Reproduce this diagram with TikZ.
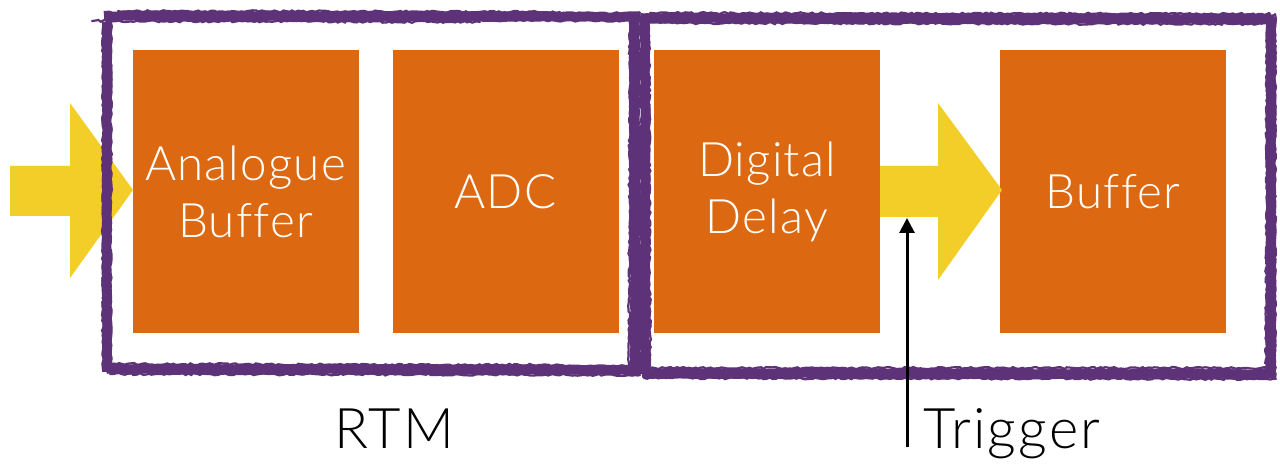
\documentclass[tikz,border=0pt]{standalone}
\usepackage{fontspec}
\setmainfont{Lato Light}
\newfontfamily\blockfont[LetterSpace=2.5,Ligatures=NoCommon]{Lato Light}
\newfontfamily\labelfont[LetterSpace=4,Ligatures=NoCommon]{Lato Light}
\usetikzlibrary{arrows.meta,decorations.pathmorphing}
\definecolor{blockorange}{HTML}{DC6912}
\definecolor{flowyellow}{HTML}{F3CD28}
\definecolor{framepurple}{HTML}{5E3278}
\tikzset{
  block/.style={fill=blockorange, draw=none, minimum width=226pt, minimum height=283pt,
    inner sep=0pt, text=white, font=\blockfont\fontsize{47.5}{57}\selectfont, align=center},
  flow/.style={fill=flowyellow, draw=none},
  brush/.style={draw=framepurple, line width=10pt, line cap=butt,
    decorate, decoration={random steps, segment length=4pt, amplitude=0.8pt}},
  bristle/.style={draw=framepurple, line width=2.2pt, line cap=round,
    decorate, decoration={random steps, segment length=3pt, amplitude=1pt}},
  label/.style={font=\labelfont\fontsize{56}{60}\selectfont, text=black, inner sep=0pt, anchor=base west},
}
\begin{document}
\begin{tikzpicture}[x=1pt,y=-1pt]
\pgfmathsetseed{7}
\useasboundingbox (0,0) rectangle (1280,465);
\fill[white] (0,0) rectangle (1280,465);

% processing blocks
\node[block] (abuf)  at (245.5,191.5) {Analogue\\Buffer};
\node[block] (adc)   at (505.5,191.5) {ADC};
\node[block] (delay) at (767,191.5)   {Digital\\Delay};
\node[block] (buf)   at (1113,191.5)  {Buffer};

% input arrow into the analogue buffer
\fill[flow] (10,166) -- (70,166) -- (70,103) -- (133,190) -- (70,278) -- (70,216) -- (10,216) -- cycle;
% arrow from the delay into the output buffer
\fill[flow] (880,166) -- (938,166) -- (938,103) -- (1002,190) -- (938,280) -- (938,217) -- (880,217) -- cycle;
\coordinate (shaftbottom) at (907,218);

% RTM frame (brush-stroke rectangle)
\draw[brush] (107,22) -- (107,372);
\draw[brush] (104,16) -- (640,17);
\draw[brush] (634,14) -- (635,372);
\draw[brush] (106,369) -- (640,370);
\draw[bristle] (103,30) -- (103,370);
\draw[bristle] (111,14) -- (110,360);
\draw[bristle] (118,11) -- (560,12);
\draw[bristle] (92,21) -- (480,22);
\draw[bristle] (630,20) -- (629,365);
\draw[bristle] (639,12) -- (640,374);
\draw[bristle] (110,374) -- (640,375);
\draw[bristle] (110,364) -- (560,365);

% second frame
\draw[brush] (645,20) -- (645,374);
\draw[brush] (640,18) -- (1275,19);
\draw[brush] (1271,18) -- (1271,378);
\draw[brush] (642,373) -- (1275,374);
\draw[bristle] (650,13) -- (1270,14);
\draw[bristle] (660,23) -- (1262,24);
\draw[bristle] (1267,26) -- (1266,372);
\draw[bristle] (1275,14) -- (1275,378);
\draw[bristle] (650,368) -- (1268,368);
\draw[bristle] (644,378) -- (1276,379);
\draw[bristle] (649,30) -- (650,366);

% labels
\node[label] (rtm) at (334,448) {RTM};
\node[label] (trig) at (923,448) {Trigger};
\coordinate (trigfoot) at (907,447);
\draw[line width=3pt, -{Triangle[length=15pt,width=15pt]}] (trigfoot) -- (shaftbottom);
\end{tikzpicture}
\end{document}
